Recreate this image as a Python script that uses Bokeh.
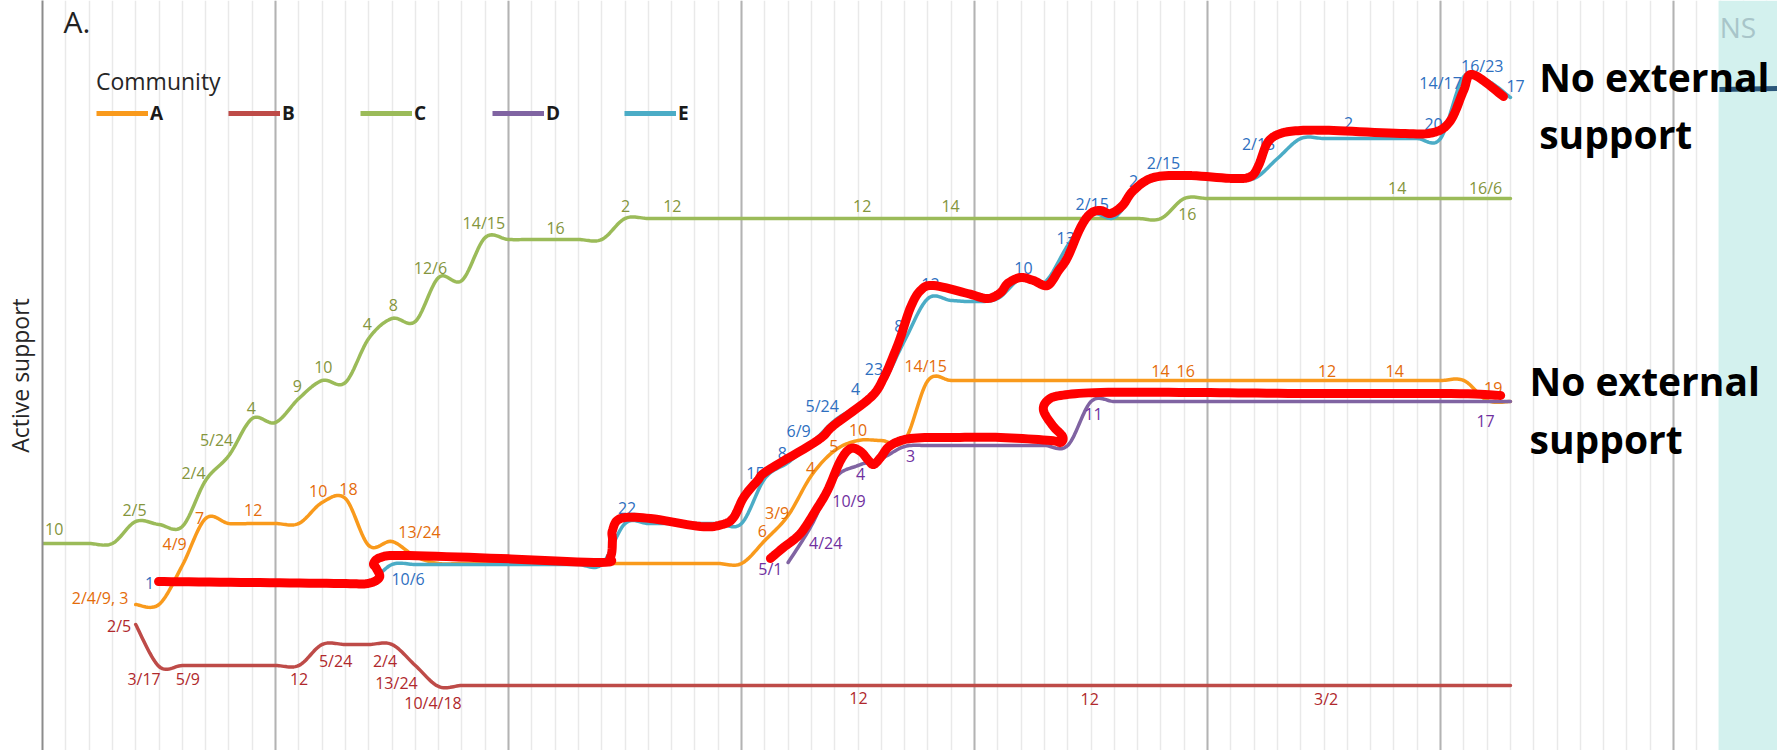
import numpy as np
from bokeh.plotting import figure
from bokeh.models import (Range1d, LinearAxis, FixedTicker, Grid, BoxAnnotation,
                          Label, Legend, LegendItem, ColumnDataSource)
from bokeh.core.properties import value
from bokeh.embed import file_html
from bokeh.resources import INLINE

# ---------------- data ----------------
# x = observation step (one per minor grid line), y = level of active support
communities = ["A", "B", "C", "D", "E"]

C_x0 = 0
C_y = [20.7, 20.7, 20.7, 20.7, 22.9, 22.6, 22.4, 27.0, 29.5, 33.2,
       32.8, 35.2, 37.0, 36.8, 41.2, 43.2, 42.9, 47.3, 47.0, 51.3,
       51.1, 51.1, 51.1, 51.1, 51.1, 53.2, 53.2, 53.2, 53.2, 53.2,
       53.2, 53.2, 53.2, 53.2, 53.2, 53.2, 53.2, 53.2, 53.2, 53.2,
       53.2, 53.2, 53.2, 53.2, 53.2, 53.2, 53.2, 53.2, 53.2, 55.2,
       55.2, 55.2, 55.2, 55.2, 55.2, 55.2, 55.2, 55.2, 55.2, 55.2,
       55.2, 55.2, 55.2, 55.2]

A_x0 = 4
A_y = [14.6, 14.6, 18.5, 23.2, 22.7, 22.7, 22.7, 22.7, 24.8, 25.2,
       20.5, 20.9, 19.4, 18.7, 18.7, 18.7, 18.7, 18.7, 18.7, 18.7,
       18.7, 18.7, 18.7, 18.7, 18.7, 18.7, 18.7, 21.0, 23.5, 27.5,
       30.0, 31.0, 31.0, 31.0, 37.0, 37.0, 37.0, 37.0, 37.0, 37.0,
       37.0, 37.0, 37.0, 37.0, 37.0, 37.0, 37.0, 37.0, 37.0, 37.0,
       37.0, 37.0, 37.0, 37.0, 37.0, 37.0, 37.0, 37.0, 35.0, 34.9]

B_x0 = 4
B_y = [12.6, 8.4, 8.5, 8.5, 8.5, 8.5, 8.5, 8.5, 10.6, 10.6,
       10.6, 10.6, 8.5, 6.4, 6.5, 6.5, 6.5, 6.5, 6.5, 6.5,
       6.5, 6.5, 6.5, 6.5, 6.5, 6.5, 6.5, 6.5, 6.5, 6.5,
       6.5, 6.5, 6.5, 6.5, 6.5, 6.5, 6.5, 6.5, 6.5, 6.5,
       6.5, 6.5, 6.5, 6.5, 6.5, 6.5, 6.5, 6.5, 6.5, 6.5,
       6.5, 6.5, 6.5, 6.5, 6.5, 6.5, 6.5, 6.5, 6.5, 6.5]

D_x0 = 32
D_y = [18.8, 22.5, 27.2, 28.5, 29.2, 30.4, 30.5, 30.5, 30.5, 30.5,
       30.5, 30.5, 30.5, 34.9, 34.9, 34.9, 34.9, 34.9, 34.9, 34.9,
       34.9, 34.9, 34.9, 34.9, 34.9, 34.9, 34.9, 34.9, 34.9, 34.9,
       34.9, 34.9]

E_x0 = 5
E_y = [16.8, 16.8, 16.8, 16.8, 16.8, 16.8, 16.8, 16.8, 16.8, 16.8,
       18.6, 18.6, 18.6, 18.6, 18.6, 18.6, 18.6, 18.6, 18.6, 18.6,
       22.7, 22.7, 22.7, 22.7, 22.7, 22.7, 27.2, 28.8, 30.7, 33.0,
       34.5, 36.5, 41.0, 45.2, 45.0, 44.9, 45.2, 47.2, 46.8, 50.5,
       53.6, 53.3, 56.2, 57.5, 57.5, 57.4, 57.3, 57.2, 59.2, 61.2,
       61.2, 61.2, 61.2, 61.2, 61.2, 61.2, 67.4, 67.0, 65.3]

# data labels (x, y, text)
A_lbl_x = [2.47, 5.67, 6.74, 9.04, 11.83, 13.13, 16.18, 30.89, 31.53, 32.96, 33.96, 35.0, 37.9, 47.98, 49.06, 55.13, 58.03, 62.26]
A_lbl_y = [15.3, 20.7, 23.3, 24.1, 26.0, 26.2, 21.9, 22.0, 23.8, 28.3, 30.5, 32.1, 38.5, 38.0, 38.0, 38.0, 38.0, 36.3]
A_lbl_t = ["2/4/9, 3", "4/9", "7", "12", "10", "18", "13/24", "6", "3/9", "4", "5", "10", "14/15", "14", "16", "12", "14", "19"]

B_lbl_x = [3.29, 4.36, 6.24, 11.01, 12.58, 14.7, 15.19, 16.76, 35.02, 44.94, 55.09]
B_lbl_y = [12.5, 7.2, 7.2, 7.2, 9.0, 9.0, 6.8, 4.8, 5.3, 5.2, 5.2]
B_lbl_t = ["2/5", "3/17", "5/9", "12", "5/24", "2/4", "13/24", "10/4/18", "12", "12", "3/2"]

C_lbl_x = [0.5, 3.95, 6.48, 7.47, 8.96, 10.94, 12.05, 13.94, 15.06, 16.65, 18.94, 22.02, 25.02, 27.03, 35.18, 38.97, 49.13, 58.14, 61.93]
C_lbl_y = [22.2, 24.1, 27.8, 31.1, 34.3, 36.5, 38.4, 42.7, 44.6, 48.3, 52.8, 52.3, 54.5, 54.5, 54.5, 54.5, 53.7, 56.3, 56.3]
C_lbl_t = ["10", "2/5", "2/4", "5/24", "4", "9", "10", "4", "8", "12/6", "14/15", "16", "2", "12", "12", "14", "16", "14", "16/6"]

D_lbl_x = [31.24, 33.61, 34.61, 35.11, 37.25, 45.11, 61.93]
D_lbl_y = [18.2, 20.8, 25.0, 27.7, 29.5, 33.7, 33.0]
D_lbl_t = ["5/1", "4/24", "10/9", "4", "3", "11", "17"]

E_lbl_x = [4.59, 15.69, 25.09, 30.6, 31.75, 32.45, 33.46, 34.89, 35.68, 36.75, 38.11, 42.1, 43.91, 45.05, 46.82, 48.11, 52.19, 56.05, 59.7, 60.0, 61.79, 63.22]
E_lbl_y = [16.8, 17.2, 24.3, 27.8, 29.8, 32.0, 34.5, 36.2, 38.2, 42.5, 46.7, 48.3, 51.3, 54.7, 57.0, 58.8, 60.7, 62.8, 62.7, 66.8, 68.5, 66.5]
E_lbl_t = ["1", "10/6", "22", "15", "8", "6/9", "5/24", "4", "23", "8", "12", "10", "13", "2/15", "2", "2/15", "2/15", "2", "20", "14/17", "16/23", "17"]

# hand-drawn red annotation strokes
red1_x = [4.98, 8.93, 12.79, 13.95, 14.46, 14.33, 14.21, 14.51, 15.45, 19.66, 23.95, 24.38, 24.46, 24.46, 24.81,
          26.09, 28.24, 29.18, 29.66, 30.09, 30.69, 31.12, 33.26, 33.95, 35.54, 36.09, 36.52, 36.82, 37.25,
          37.68, 38.24, 39.7, 40.56, 41.12, 41.42, 41.97, 42.53, 43.13, 43.61, 43.99, 44.55, 44.98, 45.41,
          45.84, 46.35, 46.82, 47.68, 49.14, 51.12, 51.85, 52.19, 52.58, 53.13, 53.99, 55.41, 58.28, 59.7,
          60.43, 60.99, 61.37, 62.7]
red1_y = [16.9, 16.8, 16.7, 16.7, 17.3, 18.2, 18.7, 19.3, 19.5, 19.2, 18.8, 19.4, 21.0, 22.0, 23.2,
          23.2, 22.4, 22.6, 23.3, 25.3, 27.0, 28.0, 31.0, 32.5, 35.3, 37.2, 39.5, 41.3, 44.3,
          46.0, 46.5, 45.7, 45.2, 45.8, 46.7, 47.3, 47.0, 46.5, 48.0, 49.3, 52.3, 53.7, 54.0,
          53.7, 54.5, 56.0, 57.3, 57.5, 57.2, 57.4, 58.5, 60.8, 61.7, 62.0, 62.0, 61.7, 61.8,
          63.0, 66.0, 67.6, 65.4]
red2_x = [31.24, 31.8, 32.53, 33.18, 33.69, 34.25, 34.68, 35.11, 35.45, 35.67, 35.97, 36.39, 37.25, 38.97,
          41.12, 43.26, 43.69, 43.78, 43.35, 42.96, 43.13, 43.69, 45.41, 49.7, 53.99, 60.43, 62.58]
red2_y = [19.2, 20.3, 21.7, 24.0, 26.0, 29.0, 30.2, 29.9, 29.0, 28.6, 29.3, 30.5, 31.2, 31.3,
          31.3, 31.0, 30.8, 31.4, 32.5, 34.0, 35.0, 35.5, 35.8, 35.8, 35.7, 35.7, 35.5]

note_text = ["No external", "support", "No external", "support"]
note_x = [64.23, 64.23, 63.82, 63.82]
note_y = [67.37, 61.7, 37.0, 31.2]

# slide decoration on the right
slide_edge_x = 71.93
swoosh_x = [71.97, 74.5]
swoosh_y = [66.1, 66.2]

colors = {"A": "#f99a1c", "B": "#be4b48", "C": "#9bbb59", "D": "#8064a2", "E": "#4bacc6"}
label_colors = {"A": "#e46c0a", "B": "#b0282c", "C": "#84953c", "D": "#7030a0", "E": "#2e6fbf"}


def smooth(xs, ys, n=14):
    """Excel-style smoothed line (Bezier through points, 1/6 tangents)."""
    P = np.column_stack([np.asarray(xs, float), np.asarray(ys, float)])
    out = [P[0]]
    t = np.linspace(0, 1, n + 1)[1:, None]
    for i in range(len(P) - 1):
        p0 = P[i - 1] if i > 0 else P[i]
        p1, p2 = P[i], P[i + 1]
        p3 = P[i + 2] if i + 2 < len(P) else P[i + 1]
        c1 = p1 + (p2 - p0) / 6.0
        c2 = p2 - (p3 - p1) / 6.0
        seg = (1 - t) ** 3 * p1 + 3 * (1 - t) ** 2 * t * c1 + 3 * (1 - t) * t ** 2 * c2 + t ** 3 * p2
        out.extend(seg)
    out = np.array(out)
    return out[:, 0], out[:, 1]


FONT = "Open Sans"

p = figure(width=1777, height=750, output_backend="svg", toolbar_location=None,
           x_range=Range1d(0, 74.46), y_range=Range1d(0, 75),
           x_axis_location=None, y_axis_location=None,
           min_border_left=42, min_border_right=0, min_border_top=0, min_border_bottom=0)
p.outline_line_color = None
p.xgrid.visible = False
p.ygrid.visible = False
p.background_fill_color = "white"

yax = LinearAxis(ticker=FixedTicker(ticks=[]), axis_label="Active support",
                 axis_line_color="#8c8c8c", axis_line_width=2,
                 major_tick_out=0, major_tick_in=0, minor_tick_out=0, minor_tick_in=0,
                 major_label_standoff=0, major_label_text_font_size="0px",
                 axis_label_standoff=7, axis_label_text_font=FONT,
                 axis_label_text_font_size="23px", axis_label_text_font_style="normal",
                 axis_label_text_color="#262626")
p.add_layout(yax, "left")

grid = Grid(dimension=0,
            ticker=FixedTicker(ticks=list(range(0, 80, 10)), minor_ticks=list(range(0, 75))),
            grid_line_color="#b3b3b3", grid_line_width=2,
            minor_grid_line_color="#e9e9e9", minor_grid_line_width=1.5)
p.add_layout(grid)

p.add_layout(BoxAnnotation(left=slide_edge_x, fill_color="#d3f1ee", fill_alpha=1.0,
                           line_color=None, level="underlay"))

series = {"A": (A_x0, A_y), "B": (B_x0, B_y), "C": (C_x0, C_y), "D": (D_x0, D_y), "E": (E_x0, E_y)}
for name in ["C", "B", "A", "D", "E"]:
    x0, ys = series[name]
    xs = list(range(x0, x0 + len(ys)))
    sx, sy = smooth(xs, ys)
    p.line(sx, sy, line_color=colors[name], line_width=3.5, line_join="round", line_cap="round")

labels = {"A": (A_lbl_x, A_lbl_y, A_lbl_t), "B": (B_lbl_x, B_lbl_y, B_lbl_t),
          "C": (C_lbl_x, C_lbl_y, C_lbl_t), "D": (D_lbl_x, D_lbl_y, D_lbl_t),
          "E": (E_lbl_x, E_lbl_y, E_lbl_t)}
for name, (lx, ly, lt) in labels.items():
    src = ColumnDataSource(dict(x=lx, y=ly, t=lt))
    p.text(x="x", y="y", text="t", source=src, text_color=label_colors[name],
           text_font=value(FONT), text_font_size=value("16px"),
           text_align="center", text_baseline="middle")

for rx, ry in [(red1_x, red1_y), (red2_x, red2_y)]:
    sx, sy = smooth(rx, ry, n=10)
    p.line(sx, sy, line_color="#ff0000", line_width=9, line_join="round", line_cap="round")

# slide decoration
p.line(swoosh_x, swoosh_y, line_color="#2b577a", line_width=5)
p.add_layout(Label(x=slide_edge_x + 0.05, y=72.4, text="NS", text_font=FONT, text_font_size="28px",
                   text_color="#a8c5c9", text_baseline="alphabetic"))

for t, x, y in zip(note_text, note_x, note_y):
    p.add_layout(Label(x=x, y=y, text=t, text_font=FONT, text_font_size="39px",
                       text_font_style="bold", text_color="black", text_baseline="alphabetic"))

p.add_layout(Label(x=0.9, y=72.87, text="A.", text_font=FONT, text_font_size="30px",
                   text_color="#222222", text_baseline="alphabetic"))

# legend (key lines drawn with the legend's own thicker stroke)
items = []
for name in communities:
    r = p.line(x=[np.nan], y=[np.nan], line_color=colors[name], line_width=5)
    items.append(LegendItem(label=name, renderers=[r]))
legend = Legend(items=items, orientation="horizontal", title="Community",
                location=(54, 624), background_fill_alpha=0, border_line_color=None,
                padding=0, margin=0, spacing=58, glyph_width=52, glyph_height=20,
                label_standoff=2, label_text_font=FONT, label_text_font_size="19px",
                label_text_font_style="bold", label_text_color="#1a1a1a",
                title_text_font=FONT, title_text_font_size="23px", title_text_font_style="normal",
                title_text_color="#262626", title_standoff=3)
p.add_layout(legend)

open("out.html", "w").write(file_html(p, INLINE))
